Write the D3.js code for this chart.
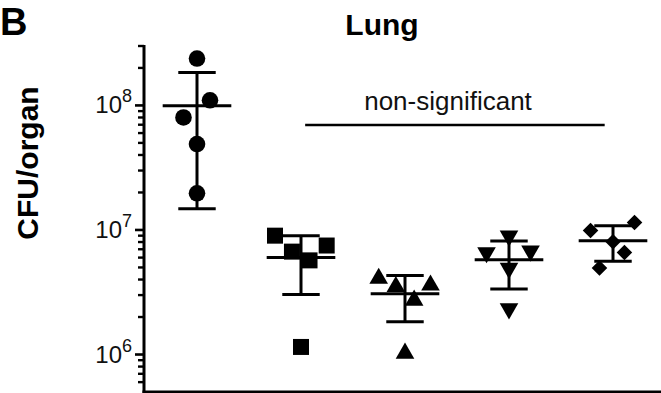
<!DOCTYPE html>
<html>
<head>
<meta charset="utf-8">
<script src="https://cdn.jsdelivr.net/npm/d3@7"></script>
<style>
  html, body { margin: 0; padding: 0; background: #fff; }
  svg { display: block; font-family: "Liberation Sans", Arial, sans-serif; }
</style>
</head>
<body>
<svg id="chart" width="661" height="393"></svg>
<script>
// Lung bacterial burden, CFU per organ, five groups of five animals
const groups = ["G1", "G2", "G3", "G4", "G5"];
const symbols = ["circle", "square", "triangle", "triangleDown", "diamond"];

const cfuG1 = [2.38e8, 1.1e8, 8.0e7, 4.9e7, 1.97e7];
const cfuG2 = [9.0e6, 6.7e6, 5.7e6, 7.5e6, 1.15e6];
const cfuG3 = [4.2e6, 3.6e6, 3.7e6, 2.8e6, 1.05e6];
const cfuG4 = [8.7e6, 6.4e6, 6.6e6, 4.8e6, 2.27e6];
const cfuG5 = [1.15e7, 9.9e6, 8.05e6, 6.6e6, 4.95e6];
const cfu = [cfuG1, cfuG2, cfuG3, cfuG4, cfuG5];

// horizontal scatter of each point inside its column, in column units
const spreadG1 = [0, 0.125, -0.13, 0, 0];
const spreadG2 = [-0.25, -0.087, 0.082, 0.247, 0];
const spreadG3 = [-0.253, -0.088, 0.245, 0.088, 0];
const spreadG4 = [0, -0.216, 0.207, 0, 0];
const spreadG5 = [0.207, -0.216, 0, 0.11, -0.13];
const spread = [spreadG1, spreadG2, spreadG3, spreadG4, spreadG5];

const yExponents = [6, 7, 8];
const minorTicks = [6e5, 7e5, 8e5, 9e5, 2e6, 3e6, 4e6, 5e6, 6e6, 7e6, 8e6, 9e6,
                    2e7, 3e7, 4e7, 5e7, 6e7, 7e7, 8e7, 9e7, 2e8, 3e8];
const bracketSpan = [1.04, 3.92];

const svg = d3.select("#chart");

const x = d3.scaleLinear().domain([-0.5, 4.5]).range([145, 665]);
const y = d3.scaleLog().domain([5e5, 3e8]).range([392, 46]);

const axisX = 144;

// Y axis: spine, minor ticks, major ticks
svg.append("line")
  .attr("x1", axisX).attr("x2", axisX)
  .attr("y1", y(3e8) - 1).attr("y2", 393)
  .attr("stroke", "#000").attr("stroke-width", 3);

svg.append("g").selectAll("line").data(minorTicks).join("line")
  .attr("x1", axisX - 6).attr("x2", axisX)
  .attr("y1", d => y(d)).attr("y2", d => y(d))
  .attr("stroke", "#000").attr("stroke-width", 2.4);

svg.append("g").selectAll("line").data(yExponents).join("line")
  .attr("x1", axisX - 9).attr("x2", axisX)
  .attr("y1", d => y(Math.pow(10, d))).attr("y2", d => y(Math.pow(10, d)))
  .attr("stroke", "#000").attr("stroke-width", 2.6);

const lbl = svg.append("g").selectAll("text").data(yExponents).join("text")
  .attr("x", 132)
  .attr("y", d => y(Math.pow(10, d)) + 8)
  .attr("text-anchor", "end")
  .attr("font-size", 24)
  .attr("fill", "#111");
lbl.append("tspan").text("10");
lbl.append("tspan").attr("font-size", 18).attr("dy", -11).text(d => d);

// X axis baseline
svg.append("line")
  .attr("x1", axisX - 1.5).attr("x2", 661)
  .attr("y1", 392).attr("y2", 392)
  .attr("stroke", "#000").attr("stroke-width", 3);

// Panel letter and titles
svg.append("text")
  .attr("x", 0).attr("y", 35)
  .attr("font-size", 38).attr("font-weight", "bold")
  .text("B");

svg.append("text")
  .attr("x", 382).attr("y", 35)
  .attr("text-anchor", "middle")
  .attr("font-size", 30).attr("font-weight", "bold")
  .text("Lung");

svg.append("text")
  .attr("transform", "translate(38,163) rotate(-90)")
  .attr("text-anchor", "middle")
  .attr("font-size", 30).attr("font-weight", "bold")
  .text("CFU/organ");

// Comparison bracket
svg.append("line")
  .attr("x1", x(bracketSpan[0])).attr("x2", x(bracketSpan[1]))
  .attr("y1", 125).attr("y2", 125)
  .attr("stroke", "#000").attr("stroke-width", 2.6);

svg.append("text")
  .attr("x", 448).attr("y", 110)
  .attr("text-anchor", "middle")
  .attr("font-size", 26)
  .attr("fill", "#111")
  .text("non-significant");

// Symbol shapes
const symbolType = {
  circle: d3.symbolCircle,
  square: d3.symbolSquare,
  triangle: d3.symbolTriangle,
  triangleDown: d3.symbolTriangle,
  diamond: d3.symbolSquare
};
const symbolArea = {
  circle: Math.PI * 8.3 * 8.3,
  square: 16 * 16,
  triangle: 150,
  triangleDown: 150,
  diamond: 11 * 11
};
const symbolRotate = { circle: 0, square: 0, triangle: 0, triangleDown: 180, diamond: 45 };

groups.forEach((g, i) => {
  const vals = cfu[i];
  const m = d3.mean(vals);
  const sd = d3.deviation(vals);
  const cx = x(i);
  const grp = svg.append("g");

  const pts = vals.map((v, j) => ({ v, dx: spread[i][j] }));
  const s = symbols[i];
  const path = d3.symbol().type(symbolType[s]).size(symbolArea[s])();
  // triangles: shift so the symbol's bounding box is centred on the value
  const tShift = (s === "triangle") ? 1.5 : (s === "triangleDown" ? -1.5 : 0);

  grp.selectAll("path").data(pts).join("path")
    .attr("d", path)
    .attr("transform", d => `translate(${x(i + d.dx)},${y(d.v) + tShift}) rotate(${symbolRotate[s]})`)
    .attr("fill", "#000");

  // mean ± SD
  const eb = svg.append("g").attr("stroke", "#000").attr("stroke-width", 3);
  eb.append("line")
    .attr("x1", cx).attr("x2", cx)
    .attr("y1", y(m + sd)).attr("y2", y(m - sd));
  eb.append("line")
    .attr("x1", x(i - 0.33)).attr("x2", x(i + 0.33))
    .attr("y1", y(m)).attr("y2", y(m));
  eb.append("line")
    .attr("x1", x(i - 0.18)).attr("x2", x(i + 0.18))
    .attr("y1", y(m + sd)).attr("y2", y(m + sd));
  eb.append("line")
    .attr("x1", x(i - 0.18)).attr("x2", x(i + 0.18))
    .attr("y1", y(m - sd)).attr("y2", y(m - sd));
});
</script>
</body>
</html>
